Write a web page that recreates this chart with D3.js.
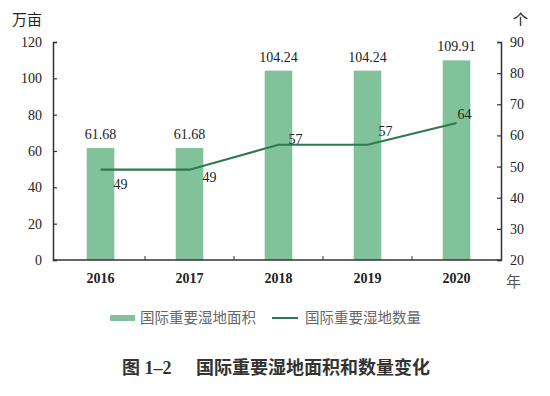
<!DOCTYPE html>
<html>
<head>
<meta charset="utf-8">
<script src="https://cdn.jsdelivr.net/npm/d3@7"></script>
<style>
  body { margin: 0; background: #fff; }
  svg text { font-family: "Liberation Serif", "Noto Sans CJK SC", serif; }
</style>
</head>
<body>
<svg id="chart" width="550" height="396"></svg>
<script>
// data
const years = ['2016', '2017', '2018', '2019', '2020']
const areaValues = [61.68, 61.68, 104.24, 104.24, 109.91]   // 万亩
const countValues = [49, 49, 57, 57, 64]                    // 个
const leftTicks = [0, 20, 40, 60, 80, 100, 120]
const rightTicks = [20, 30, 40, 50, 60, 70, 80, 90]
const seriesNames = ['国际重要湿地面积', '国际重要湿地数量']
const titleParts = ['图 1–2', '国际重要湿地面积和数量变化']

// label offsets for the line values (dx, dy from the point)
const countLabelOffsets = [[20, 19], [20, 12], [17, -1], [18, -9], [8, -4]]

const barColor = '#82c29a'
const lineColor = '#2e7a4c'
const axisColor = '#333'
const textColor = '#222'

const svg = d3.select('#chart')
const plotLeft = 53, plotRight = 501, plotTop = 42, plotBottom = 260

const x = d3.scaleBand().domain(years).range([plotLeft + 3, plotRight]).paddingInner(0.69).paddingOuter(0.345)
const xc = d => x(d) + x.bandwidth() / 2
const yL = d3.scaleLinear().domain([0, 120]).range([plotBottom, plotTop])
const yR = d3.scaleLinear().domain([20, 90]).range([plotBottom, plotTop])

// bars
svg.selectAll('rect.bar')
  .data(years)
  .enter()
  .append('rect')
  .attr('class', 'bar')
  .attr('x', d => x(d))
  .attr('width', x.bandwidth())
  .attr('y', (d, i) => yL(areaValues[i]))
  .attr('height', (d, i) => yL(0) - yL(areaValues[i]))
  .attr('fill', barColor)

svg.selectAll('text.barlabel')
  .data(years)
  .enter()
  .append('text')
  .attr('x', d => xc(d))
  .attr('y', (d, i) => yL(areaValues[i]) - 9)
  .attr('text-anchor', 'middle')
  .attr('font-size', 14)
  .attr('fill', textColor)
  .text((d, i) => areaValues[i].toFixed(2))

// axes
const axisL = svg.append('g')
  .attr('transform', `translate(${plotLeft},0)`)
  .call(d3.axisRight(yL).tickValues(leftTicks).tickSize(4).tickFormat(''))
const axisR = svg.append('g')
  .attr('transform', `translate(${plotRight},0)`)
  .call(d3.axisLeft(yR).tickValues(rightTicks).tickSize(4).tickFormat(''))
const axisB = svg.append('g')
  .attr('transform', `translate(0,${plotBottom})`)
  .call(d3.axisTop(x).tickSize(0).tickFormat(''))
axisB.select('.domain').attr('d', `M${plotLeft},0H${plotRight}`)
// small ticks between categories
axisB.selectAll('line.sep')
  .data(years.slice(1))
  .enter()
  .append('line')
  .attr('x1', d => x(d) - x.step() * x.paddingInner() / 2)
  .attr('x2', d => x(d) - x.step() * x.paddingInner() / 2)
  .attr('y1', 0).attr('y2', -4)
  .attr('stroke', axisColor)
;[axisL, axisR, axisB].forEach(g => {
  g.selectAll('.domain').attr('stroke', axisColor).attr('stroke-width', 1.5)
  g.selectAll('.tick line').attr('stroke', axisColor).attr('stroke-width', 1.2)
})

// tick labels
svg.selectAll('text.lt')
  .data(leftTicks)
  .enter()
  .append('text')
  .attr('x', 42)
  .attr('y', d => yL(d) + 5)
  .attr('text-anchor', 'end')
  .attr('font-size', 14)
  .attr('fill', textColor)
  .text(d => d)

svg.selectAll('text.rt')
  .data(rightTicks)
  .enter()
  .append('text')
  .attr('x', 510)
  .attr('y', d => yR(d) + 5)
  .attr('font-size', 14)
  .attr('fill', textColor)
  .text(d => d)

svg.selectAll('text.xt')
  .data(years)
  .enter()
  .append('text')
  .attr('x', d => xc(d))
  .attr('y', 283)
  .attr('text-anchor', 'middle')
  .attr('font-size', 14)
  .attr('font-weight', 'bold')
  .attr('fill', textColor)
  .text(d => d)

// units
svg.append('text').attr('x', 12).attr('y', 25).attr('font-size', 15)
  .attr('font-family', 'Noto Sans CJK SC').attr('fill', textColor).text('万亩')
svg.append('text').attr('x', 513).attr('y', 25).attr('font-size', 15)
  .attr('font-family', 'Noto Sans CJK SC').attr('fill', textColor).text('个')
svg.append('text').attr('x', 506).attr('y', 287).attr('font-size', 15)
  .attr('font-family', 'Noto Sans CJK SC').attr('fill', '#555').text('年')

// line
const line = d3.line()
  .x((d, i) => xc(years[i]))
  .y(d => yR(d))
svg.append('path')
  .datum(countValues)
  .attr('fill', 'none')
  .attr('stroke', lineColor)
  .attr('stroke-width', 2.2)
  .attr('d', line)

svg.selectAll('text.countlabel')
  .data(countValues)
  .enter()
  .append('text')
  .attr('x', (d, i) => xc(years[i]) + countLabelOffsets[i][0])
  .attr('y', (d, i) => yR(d) + countLabelOffsets[i][1])
  .attr('text-anchor', 'middle')
  .attr('font-size', 14)
  .attr('fill', textColor)
  .text(d => d)

// legend
const legend = svg.append('g').attr('transform', 'translate(110,318)')
legend.append('rect').attr('x', 0).attr('y', -3).attr('width', 25).attr('height', 6).attr('fill', barColor)
legend.append('text').attr('x', 30).attr('y', 5).attr('font-size', 14.5)
  .attr('font-family', 'Noto Sans CJK SC').attr('fill', '#666').text(seriesNames[0])
legend.append('line').attr('x1', 162).attr('x2', 188).attr('y1', 0).attr('y2', 0)
  .attr('stroke', lineColor).attr('stroke-width', 2)
legend.append('text').attr('x', 195).attr('y', 5).attr('font-size', 14.5)
  .attr('font-family', 'Noto Sans CJK SC').attr('fill', '#666').text(seriesNames[1])

// title
const title = svg.append('text')
  .attr('y', 374)
  .attr('font-size', 18)
  .attr('font-weight', 'bold')
  .attr('font-family', 'Noto Sans CJK SC')
  .attr('fill', '#333')
title.append('tspan').attr('x', 122).text(titleParts[0])
title.append('tspan').attr('x', 196).text(titleParts[1])
</script>
</body>
</html>
